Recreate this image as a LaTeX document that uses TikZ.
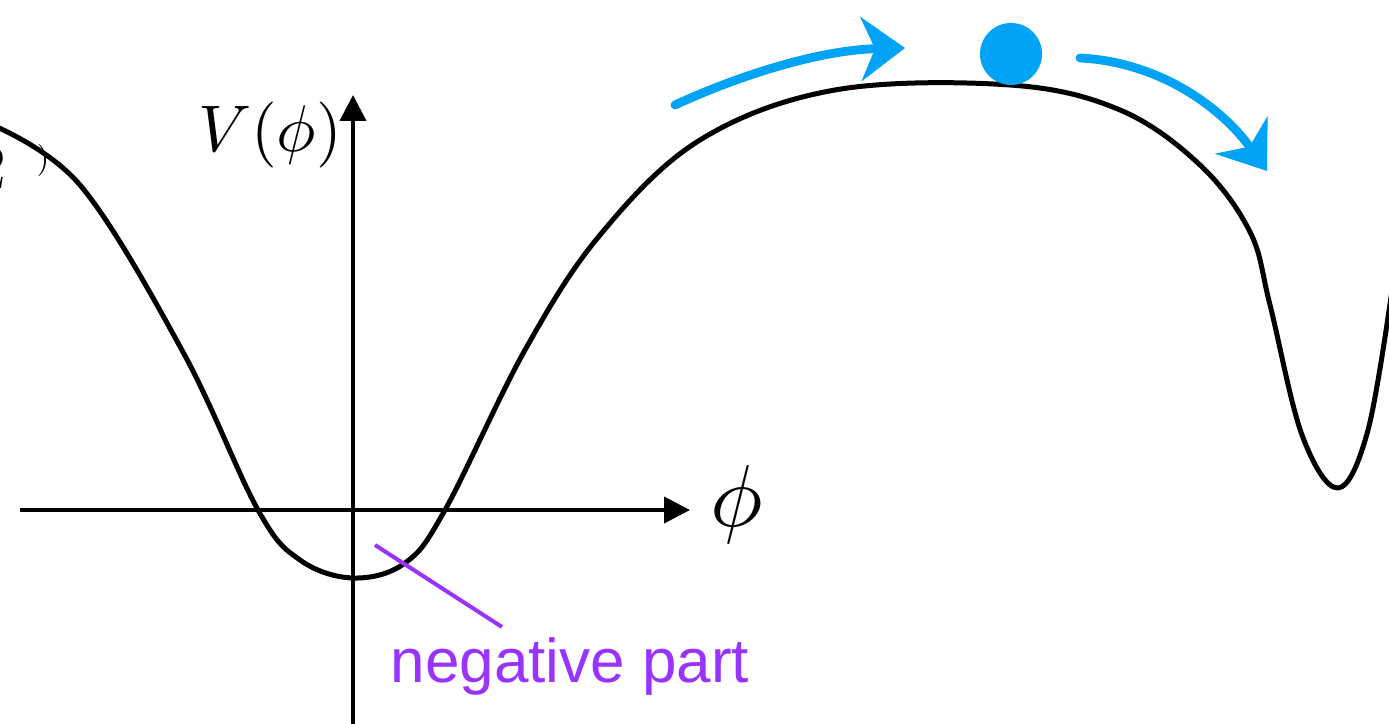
\documentclass[tikz,border=0pt]{standalone}
\usepackage{fontspec}
\newfontfamily\notefont{Liberation Sans}
\usetikzlibrary{arrows.meta}
\definecolor{ballblue}{RGB}{0,163,245}
\definecolor{notepurple}{RGB}{153,51,255}

\begin{document}
\begin{tikzpicture}[x=0.25pt, y=-0.25pt,
  axis/.style={line width=1pt, -{Triangle[length=6.5pt, width=6.5pt]}},
  pot/.style={line width=1.25pt, line join=round},
  roll/.style={ballblue, line width=2.2pt, line cap=round, -{Stealth[length=11pt, width=16pt, inset=3.5pt]}}]
\useasboundingbox (0,0) rectangle (1389,724);
% axes
\coordinate (xs) at (20,510);
\coordinate (xe) at (690,510);
\coordinate (ys) at (353,730);
\coordinate (ye) at (353,95);
\draw[axis] (xs) -- (xe);
\draw[axis] (ys) -- (ye);
\node[scale=2.2] (phi) at (737,505) {$\phi$};
\node[scale=1.65] (vlab) at (270,135) {$V(\phi)$};
% cut-off label at the left edge
\node[scale=1.6] (cut) at (-9,168) {$2$};
\node[scale=0.8] (cutb) at (43,161) {$)$};
% the potential
\draw[pot] plot[smooth, tension=0.6] coordinates {
  (-10,124) (80,185) (183,352) (258,510) (300,560) (353,578)
  (405,563) (445,510) (525,350) (600,235) (700,140) (835,90)
  (1010,85) (1120,110) (1200,165) (1250,232) (1270,305)
  (1302,435) (1338,488) (1368,430) (1392,290)};
% rolling ball
\node[circle, fill=ballblue, inner sep=0pt, minimum size=15.5pt] (ball) at (1011,54) {};
\coordinate (ra) at (675,105);
\coordinate (rb) at (905,48);
\coordinate (rc) at (1080,58);
\coordinate (rd) at (1267,171);
\draw[roll] (ra) .. controls (740,75) and (820,50) .. (rb);
\draw[roll] (rc) .. controls (1160,62) and (1222,108) .. (rd);
% label
\coordinate (dip) at (375,545);
\coordinate (lend) at (502,627);
\draw[notepurple, line width=1pt] (dip) -- (lend);
\node[notepurple, anchor=base west, inner sep=0pt, font=\notefont\fontsize{15.5}{18}\selectfont] (neg) at (390,683) {negative part};
\end{tikzpicture}
\end{document}
